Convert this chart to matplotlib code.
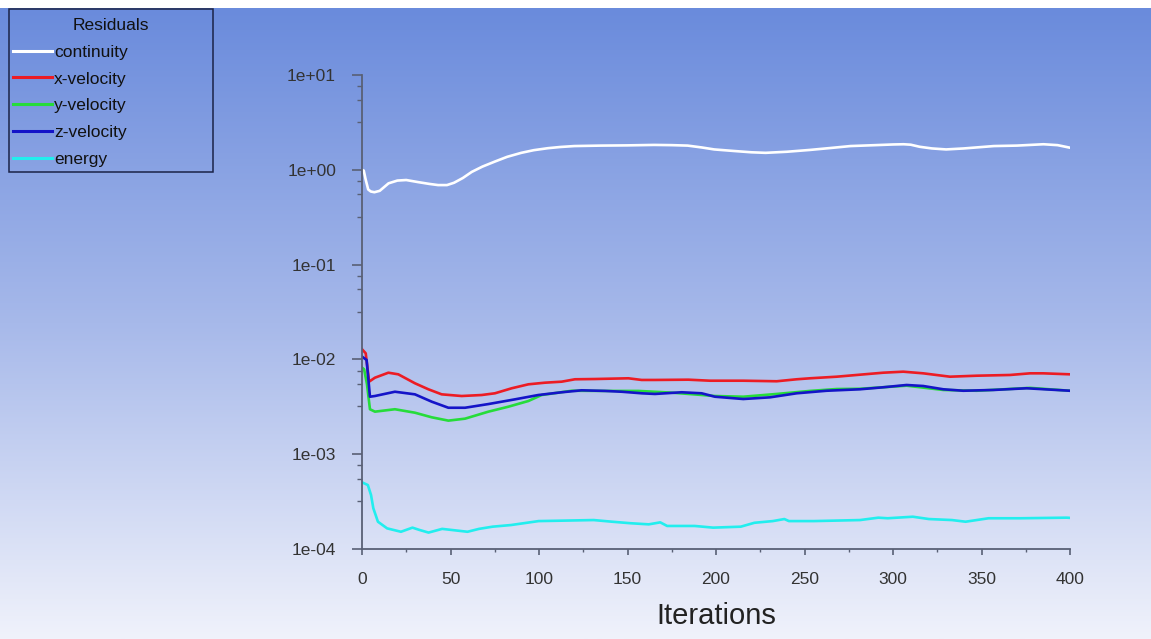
import numpy as np
import matplotlib
matplotlib.use("Agg")
import matplotlib.pyplot as plt
from matplotlib.colors import LinearSegmentedColormap
from matplotlib.patches import Rectangle
from matplotlib.ticker import FixedLocator, MultipleLocator, FuncFormatter, NullFormatter

plt.rcParams["font.family"] = ["Liberation Sans", "DejaVu Sans"]

# ====== residual histories ======
cont_it = [0, 1, 2, 3.5, 5, 7, 10, 15, 20, 25, 32, 38, 43, 48, 52, 57, 62, 68, 75, 82,
           90, 97, 105, 112, 120, 135, 150, 165, 175, 184, 192, 199, 210, 220, 228, 240,
           253, 265, 276, 290, 300, 306, 310, 315, 322, 330, 340, 357, 370, 385, 393, 400]
cont_val = [1.0, 0.98, 0.8, 0.62, 0.59, 0.58, 0.6, 0.72, 0.77, 0.78, 0.74, 0.71, 0.69, 0.69,
            0.73, 0.82, 0.95, 1.08, 1.22, 1.37, 1.51, 1.61, 1.69, 1.74, 1.78, 1.80, 1.81,
            1.83, 1.82, 1.80, 1.72, 1.64, 1.58, 1.53, 1.51, 1.55, 1.62, 1.70, 1.78, 1.82,
            1.85, 1.86, 1.84, 1.75, 1.68, 1.64, 1.68, 1.78, 1.80, 1.86, 1.82, 1.71]

xvel_it = [0, 2.1, 4.0, 7.3, 14.9, 20.5, 29.9, 37.5, 45, 56.3, 67.6, 75.1, 84.6, 94,
           103.4, 112.8, 120.3, 131.6, 150.5, 158, 165.5, 184.4, 196.6, 215.4, 234.3,
           245.6, 253.1, 268.2, 281.4, 294.5, 305.8, 317.1, 332.2, 347.3, 366.1, 377.4,
           384.9, 400]
xvel_val = [0.0128, 0.0116, 0.00582, 0.00641, 0.00724, 0.00696, 0.0056, 0.00484, 0.00428,
            0.00411, 0.00421, 0.00439, 0.00496, 0.00546, 0.00568, 0.00582, 0.00617,
            0.00621, 0.00632, 0.00607, 0.00607, 0.00611, 0.00596, 0.00596, 0.00588,
            0.00617, 0.00632, 0.00657, 0.0069, 0.00724, 0.00742, 0.00713, 0.00657,
            0.00673, 0.00685, 0.00713, 0.00713, 0.00696]

yvel_it = [0, 1.2, 2.8, 4.5, 7.3, 18.6, 29.9, 39.4, 48.8, 58.2, 71.4, 82.7, 94, 101.5,
           118.5, 137.3, 156.1, 175, 199.4, 215.4, 234.3, 253.1, 268.2, 281.4, 307.7,
           328.4, 347.3, 377.4, 400]
yvel_val = [0.0082, 0.00786, 0.0055, 0.00298, 0.00281, 0.00298, 0.00274, 0.00245, 0.00226,
            0.00237, 0.00281, 0.00317, 0.00364, 0.00421, 0.00467, 0.00465, 0.00465,
            0.00446, 0.00411, 0.00404, 0.00432, 0.00465, 0.00487, 0.0049, 0.00528,
            0.00476, 0.00467, 0.00501, 0.00467]

zvel_it = [0, 2.6, 4.5, 7.3, 18.6, 29.9, 39.4, 48.8, 58.2, 71.4, 86.4, 99.6, 112.8, 124.1,
           137.3, 146.7, 158, 165.5, 180.6, 191.9, 199.4, 215.4, 230.5, 245.6, 262.5,
           281.4, 294.5, 307.7, 317.1, 328.4, 339.7, 356.7, 375.5, 400]
zvel_val = [0.0107, 0.00986, 0.00404, 0.00411, 0.00456, 0.00428, 0.00358, 0.00309, 0.00309,
            0.00338, 0.00379, 0.00421, 0.0045, 0.00472, 0.00465, 0.00456, 0.00439,
            0.00432, 0.0045, 0.00439, 0.00404, 0.00382, 0.00398, 0.00439, 0.00467,
            0.00484, 0.00508, 0.00537, 0.00524, 0.00484, 0.00467, 0.00476, 0.00496,
            0.00467]

ener_it = [0, 3.3, 5.1, 6.4, 9.0, 14.2, 22, 28.5, 32.4, 37.6, 45.3, 59.6, 66.1, 73.8, 84.2,
           99.8, 112.8, 130.9, 141.3, 151.7, 162, 168.5, 172.4, 188, 198.4, 214, 221.7,
           232.1, 238.6, 241.2, 255.4, 281.4, 291.7, 297, 311.2, 320.3, 333.3, 341, 354,
           372.2, 398.1, 400]
ener_val = [0.000505, 0.000473, 0.000371, 0.000269, 0.000194, 0.000165, 0.000152, 0.000168,
            0.000159, 0.000149, 0.000163, 0.000152, 0.000163, 0.000172, 0.000179,
            0.000197, 0.000199, 0.000202, 0.000194, 0.000187, 0.000182, 0.000191,
            0.000175, 0.000175, 0.000168, 0.000172, 0.000189, 0.000197, 0.000207,
            0.000197, 0.000197, 0.000202, 0.000214, 0.000211, 0.000219, 0.000207,
            0.000202, 0.000194, 0.000211, 0.000211, 0.000214, 0.000213]

series = [
    ("continuity", cont_it, cont_val, "#ffffff"),
    ("x-velocity", xvel_it, xvel_val, "#ec1c24"),
    ("y-velocity", yvel_it, yvel_val, "#26dc3a"),
    ("z-velocity", zvel_it, zvel_val, "#1414c8"),
    ("energy", ener_it, ener_val, "#22eeee"),
]

y_major = [1e-4, 1e-3, 1e-2, 1e-1, 1e0, 1e1]
y_minor = [m * 10.0 ** e for e in range(-4, 1) for m in (3.2, 5.5, 7.6)]

W, H = 1151, 639
fig = plt.figure(figsize=(W / 100, H / 100), dpi=100, facecolor="white")

# gradient background like the Fluent window
bg = fig.add_axes([0, 0, 1, 1 - 8 / H], zorder=-1)
grad = np.linspace(0, 1, 256).reshape(-1, 1)
cmap = LinearSegmentedColormap.from_list("fluent", ["#6a8bdc", "#a7b9ea", "#f0f2fb"])
bg.imshow(grad, aspect="auto", cmap=cmap, extent=[0, 1, 0, 1], origin="upper")
bg.axis("off")

ax = fig.add_axes([362 / W, 90 / H, 708 / W, 474 / H])
ax.patch.set_visible(False)

for name, it, val, col in series:
    ax.plot(it, val, color=col, lw=1.9, label=name)

ax.set_yscale("log")
ax.set_xlim(0, 400)
ax.set_ylim(1e-4, 1e1)
ax.yaxis.set_major_locator(FixedLocator(y_major))
ax.yaxis.set_minor_locator(FixedLocator(y_minor))
ax.yaxis.set_major_formatter(FuncFormatter(lambda v, p: f"{v:.0e}"))
ax.yaxis.set_minor_formatter(NullFormatter())
ax.xaxis.set_major_locator(MultipleLocator(50))
ax.xaxis.set_minor_locator(MultipleLocator(25))

axis_c = "#596075"
for s in ("top", "right"):
    ax.spines[s].set_visible(False)
for s in ("left", "bottom"):
    ax.spines[s].set_color(axis_c)
    ax.spines[s].set_linewidth(1.3)

ax.tick_params(axis="y", which="major", direction="out", length=7.2, width=1.2,
               color=axis_c, labelsize=12.5, labelcolor="#333333", pad=11.5)
ax.tick_params(axis="y", which="minor", direction="out", length=3.6, width=1.0, color=axis_c)
ax.tick_params(axis="x", which="major", direction="out", length=4, width=1.2,
               color=axis_c, labelsize=12.5, labelcolor="#333333", pad=12.5)
ax.tick_params(axis="x", which="minor", direction="out", length=2.2, width=1.0, color=axis_c)

ax.set_xlabel("Iterations", fontsize=21, color="#222222", labelpad=10.5)

# legend frame drawn as a fixed box, entries placed inside it
fig.patches.append(Rectangle((9.3 / W, 1 - 171.7 / H), (212.7 - 9.3) / W, (171.7 - 9.3) / H,
                             transform=fig.transFigure, fill=False, edgecolor="#1b2347",
                             linewidth=1.1, zorder=5))
leg = ax.legend(loc="upper left",
                bbox_to_anchor=(9.3 / W, 1 - 14.5 / H, (212.7 - 9.3) / W, 0),
                bbox_transform=fig.transFigure, mode="expand", borderaxespad=0,
                title="Residuals", fontsize=12.5, title_fontsize=12.5,
                handlelength=2.24, handletextpad=0.13, labelspacing=0.67,
                borderpad=0.2, frameon=False)
for t in leg.get_texts():
    t.set_color("#111111")
leg.get_title().set_color("#111111")
for h in leg.get_lines():
    h.set_linewidth(2.2)

fig.savefig("out.png", dpi=100, facecolor=fig.get_facecolor())
